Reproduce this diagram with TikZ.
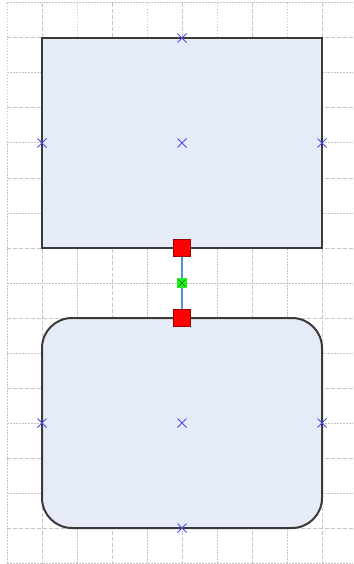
\documentclass[tikz,border=0pt]{standalone}
\usetikzlibrary{shapes.misc}
\definecolor{boxfill}{HTML}{E6ECF7}
\definecolor{boxline}{HTML}{3A3A3A}
\definecolor{gridc}{HTML}{C4C4C4}
\definecolor{markblue}{HTML}{4A4AF0}
\definecolor{conblue}{HTML}{5A8CE0}
\definecolor{handred}{HTML}{FF0000}
\definecolor{handline}{HTML}{9A0000}
\definecolor{greenh}{HTML}{22EE22}
\tikzset{
  gridmajor/.style={draw=gridc, line width=1pt, dash pattern=on 4pt off 2pt},
  gridminor/.style={draw=gridc, line width=1pt, dash pattern=on 1.5pt off 1.5pt},
  shapebox/.style={draw=boxline, fill=boxfill, line width=2pt, minimum width=280pt, minimum height=210pt, inner sep=0pt},
  handle/.style={draw=handline, fill=handred, line width=1pt, minimum size=16.5pt, inner sep=0pt},
  ghandle/.style={draw=green!50!black, cross out, line width=0.6pt, minimum size=6pt, inner sep=0pt},
  gsq/.style={fill=greenh, minimum size=10pt, inner sep=0pt},
  xmark/.style={draw=markblue, cross out, line width=1pt, minimum size=8pt, inner sep=0pt},
  conn/.style={draw=conblue, line width=1.4pt}
}
\begin{document}
\begin{tikzpicture}[x=1pt,y=-1pt]
\useasboundingbox[fill=white] (0,0) rectangle (353,564);
% grid
\foreach \i in {0,...,10}{
  \pgfmathtruncatemacro{\gpar}{mod(\i,2)}
  \ifnum\gpar=1
    \draw[gridmajor] (7+35*\i,3) -- (7+35*\i,564);
  \else
    \draw[gridminor] (7+35*\i,3) -- (7+35*\i,564);
  \fi
}
\foreach \j in {0,...,16}{
  \pgfmathtruncatemacro{\gpar}{mod(\j,2)}
  \ifnum\gpar=1
    \draw[gridmajor] (7,3+35*\j) -- (353,3+35*\j);
  \else
    \draw[gridminor] (7,3+35*\j) -- (353,3+35*\j);
  \fi
}
% shapes
\node[shapebox] (top) at (182,143) {};
\node[shapebox, rounded corners=30pt] (bottom) at (182,423) {};
% handles and connector
\node[handle] (h1) at (182,248) {};
\node[handle] (h2) at (182,318) {};
\node[gsq] (gs) at (182,283) {};
\draw[conn] (h1) -- (gs) -- (h2);
\node[ghandle] (gx) at (182,283) {};
% connection marks
\node[xmark] (t1) at (182,38) {};
\node[xmark] (t2) at (42,143) {};
\node[xmark] (t3) at (182,143) {};
\node[xmark] (t4) at (322,143) {};
\node[xmark] (b1) at (42,423) {};
\node[xmark] (b2) at (182,423) {};
\node[xmark] (b3) at (322,423) {};
\node[xmark] (b4) at (182,528) {};
\end{tikzpicture}
\end{document}
